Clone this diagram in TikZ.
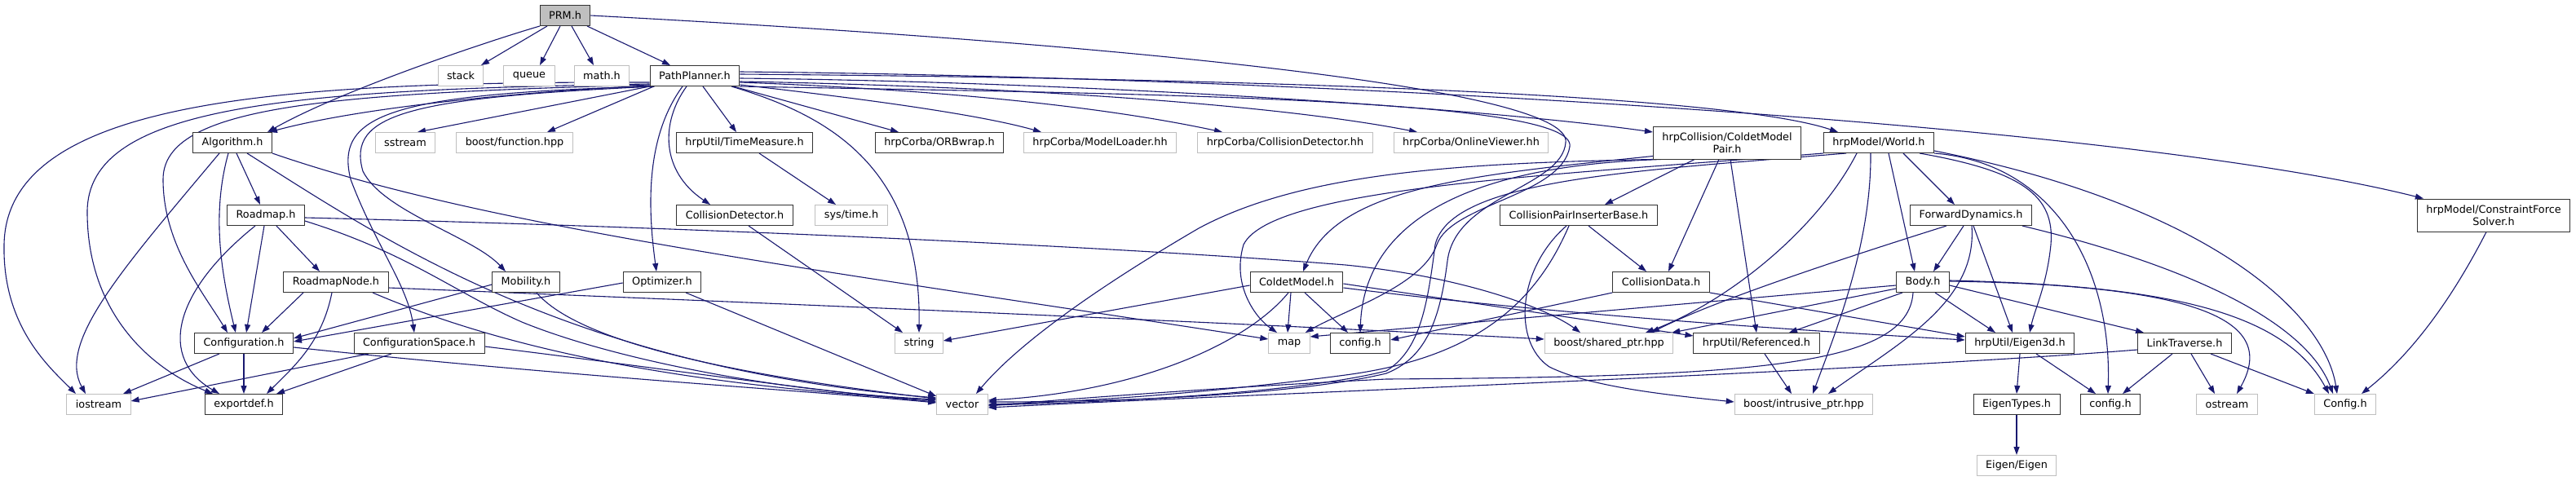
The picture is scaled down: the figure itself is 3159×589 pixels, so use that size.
\documentclass[tikz,border=0pt]{standalone}
\usepackage{fontspec}
\setmainfont{DejaVu Sans}
\usepackage{xcolor}
\usepackage{tikz}
\usetikzlibrary{arrows.meta,backgrounds}
\definecolor{depblue}{HTML}{191970}
\tikzset{
  hdr/.style={rectangle, draw=black!80, fill=white, line width=1pt, minimum height=25pt,
              inner xsep=11pt, inner ysep=0pt, align=center, font=\fontsize{12.8}{15}\selectfont},
  sys/.style={hdr, draw=black!25},
  cur/.style={hdr, fill=black!25},
  dep/.style={draw=depblue, line width=1.1pt, -{Triangle[length=10pt,width=7pt]}}
}
\begin{document}
\begin{tikzpicture}[x=1pt, y=-1pt]
  \useasboundingbox (0,0) rectangle (3159,589);
  \node[cur] (prm) at (693,19) {PRM.h};
  \node[sys] (stack) at (565,93) {stack};
  \node[sys] (queue) at (649,93) {queue};
  \node[sys] (mathh) at (738,93) {math.h};
  \node[hdr] (planner) at (852,93) {PathPlanner.h};
  \node[hdr] (algorithm) at (285,175) {Algorithm.h};
  \node[sys] (sstream) at (497,175) {sstream};
  \node[sys] (function) at (631,175) {boost/function.hpp};
  \node[hdr] (timemeasure) at (913,175) {hrpUtil/TimeMeasure.h};
  \node[hdr] (orbwrap) at (1152,175) {hrpCorba/ORBwrap.h};
  \node[sys] (modelloader) at (1349,175) {hrpCorba/ModelLoader.hh};
  \node[sys] (corbadetector) at (1576,175) {hrpCorba/CollisionDetector.hh};
  \node[sys] (viewer) at (1804,175) {hrpCorba/OnlineViewer.hh};
  \node[hdr, minimum height=40pt] (modelpair) at (2118,175) {hrpCollision/ColdetModel\\Pair.h};
  \node[hdr] (world) at (2304,175) {hrpModel/World.h};
  \node[hdr, minimum height=40pt] (solver) at (3058,264) {hrpModel/ConstraintForce\\Solver.h};
  \node[hdr] (roadmap) at (326,264) {Roadmap.h};
  \node[hdr] (detector) at (901,264) {CollisionDetector.h};
  \node[sys] (systime) at (1044,264) {sys/time.h};
  \node[hdr] (inserter) at (1936,264) {CollisionPairInserterBase.h};
  \node[hdr] (fwddyn) at (2417,264) {ForwardDynamics.h};
  \node[hdr] (roadmapnode) at (412,346) {RoadmapNode.h};
  \node[hdr] (mobility) at (645,346) {Mobility.h};
  \node[hdr] (optimizer) at (812,346) {Optimizer.h};
  \node[hdr] (coldetmodel) at (1590,346) {ColdetModel.h};
  \node[hdr] (colldata) at (2037,346) {CollisionData.h};
  \node[hdr] (body) at (2358,346) {Body.h};
  \node[hdr] (config) at (299,421) {Configuration.h};
  \node[hdr] (cspace) at (514,421) {ConfigurationSpace.h};
  \node[sys] (string) at (1127,421) {string};
  \node[sys] (map) at (1581,421) {map};
  \node[hdr] (colconfig) at (1668,421) {config.h};
  \node[sys] (sharedptr) at (1973,421) {boost/shared\_ptr.hpp};
  \node[hdr] (referenced) at (2154,421) {hrpUtil/Referenced.h};
  \node[hdr] (eigen3d) at (2477,421) {hrpUtil/Eigen3d.h};
  \node[hdr] (linktrav) at (2679,421) {LinkTraverse.h};
  \node[sys] (iostream) at (121,496) {iostream};
  \node[hdr] (exportdef) at (299,496) {exportdef.h};
  \node[sys] (vector) at (1180,496) {vector};
  \node[sys] (intrusiveptr) at (2212,496) {boost/intrusive\_ptr.hpp};
  \node[hdr] (eigentypes) at (2473,496) {EigenTypes.h};
  \node[hdr] (utilconfig) at (2588,496) {config.h};
  \node[sys] (ostream) at (2731,496) {ostream};
  \node[sys] (bigconfig) at (2876,496) {Config.h};
  \node[sys] (eigen) at (2473,571) {Eigen/Eigen};
  \begin{scope}[on background layer]
  \fill[white] (0,0) rectangle (3159,589);
  \draw[dep] ([xshift=-22pt]prm.south) -- ([xshift=25pt]stack.north);
  \draw[dep] ([xshift=-6pt]prm.south) -- ([xshift=13pt]queue.north);
  \draw[dep] ([xshift=8pt]prm.south) -- ([xshift=-10pt]mathh.north);
  \draw[dep] ([xshift=27pt]prm.south) -- ([xshift=-30pt]planner.north);
  \draw[dep] ([xshift=-31pt]prm.south) .. controls (600,50) and (420,110) .. ([xshift=43pt]algorithm.north);
  \draw[dep] (prm.east) .. controls (1400,55) and (1930,110) .. (1920,175) .. controls (1915,230) and (1785,240) .. (1775,320)
    .. controls (1765,400) and (1745,440) .. (1700,458) .. controls (1600,482) and (1400,493) .. ([yshift=3pt]vector.east);
  \draw[dep] ([yshift=-8pt]planner.west) .. controls (350,100) and (8,120) .. (5,300) .. controls (3,400) and (60,450) .. ([xshift=-28pt]iostream.north);
  \draw[dep] ([yshift=-10pt]planner.west) .. controls (350,110) and (107,130) .. (107,260) .. controls (107,380) and (180,450) .. ([xshift=-38pt]exportdef.north);
  \draw[dep] ([yshift=-11pt]planner.west) .. controls (400,115) and (200,130) .. (200,220) .. controls (200,300) and (250,360) .. ([xshift=-20pt]config.north);
  \draw[dep] ([yshift=-12pt]planner.west) .. controls (650,112) and (450,130) .. ([xshift=45pt]algorithm.north);
  \draw[dep] (planner.south west) -- ([xshift=15pt]sstream.north);
  \draw[dep] ([xshift=5pt]planner.south west) -- ([xshift=40pt]function.north);
  \draw[dep] ([xshift=3pt]planner.south west) .. controls (480,115) and (410,140) .. (430,220) .. controls (460,300) and (500,350) .. ([xshift=-6pt]cspace.north);
  \draw[dep] ([xshift=6pt]planner.south west) .. controls (500,120) and (425,140) .. (445,210) .. controls (470,260) and (580,290) .. ([xshift=-25pt]mobility.north);
  \draw[dep] ([xshift=10pt]planner.south) -- ([xshift=-10pt]timemeasure.north);
  \draw[dep] ([xshift=-10pt]planner.south) .. controls (810,150) and (810,210) .. ([xshift=-30pt]detector.north);
  \draw[dep] ([xshift=-15pt]planner.south) .. controls (790,170) and (795,260) .. ([xshift=-7pt]optimizer.north);
  \draw[dep] ([xshift=45pt]planner.south) .. controls (1010,140) and (1130,200) .. (string.north);
  \draw[dep] ([xshift=-8pt]planner.south east) -- ([xshift=-50pt]orbwrap.north);
  \draw[dep] ([yshift=2pt]planner.south east) .. controls (1050,120) and (1200,140) .. ([xshift=-72pt]modelloader.north);
  \draw[dep] ([yshift=5pt]planner.south east) .. controls (1150,110) and (1350,130) .. ([xshift=-77pt]corbadetector.north);
  \draw[dep] ([yshift=-7pt]planner.east) .. controls (1200,105) and (1550,125) .. ([xshift=-66pt]viewer.north);
  \draw[dep] ([yshift=-3pt]planner.east) .. controls (1300,100) and (1800,130) .. ([yshift=13pt]modelpair.west);
  \draw[dep] ([yshift=2pt]planner.east) .. controls (1400,95) and (2100,110) .. ([xshift=-50pt]world.north);
  \draw[dep] ([yshift=5pt]planner.east) .. controls (1600,95) and (2600,150) .. ([xshift=8pt]solver.north west);
  \draw[dep] (planner.south east) .. controls (1400,115) and (1935,120) .. (1925,180) .. controls (1915,240) and (1780,250) .. (1762,300)
    .. controls (1745,350) and (1650,380) .. ([xshift=-6pt]map.north east);
  \draw[dep] ([xshift=-16pt]algorithm.south) .. controls (150,330) and (70,420) .. ([xshift=-16pt]iostream.north);
  \draw[dep] ([xshift=-5pt]algorithm.south) .. controls (260,260) and (270,330) .. ([xshift=-10pt]config.north);
  \draw[dep] ([xshift=5pt]algorithm.south) -- ([xshift=-7pt]roadmap.north);
  \draw[dep] ([xshift=18pt]algorithm.south) .. controls (480,300) and (700,450) .. ([yshift=8pt]vector.west);
  \draw[dep] (algorithm.south east) .. controls (600,280) and (1000,330) .. ([yshift=5pt]map.west);
  \draw[dep] ([xshift=-13pt]roadmap.south) .. controls (210,360) and (195,440) .. ([xshift=-30pt]exportdef.north);
  \draw[dep] ([xshift=-2pt]roadmap.south) -- ([xshift=3pt]config.north);
  \draw[dep] ([xshift=13pt]roadmap.south) -- ([xshift=-20pt]roadmapnode.north);
  \draw[dep] ([yshift=-7pt]roadmap.east) .. controls (500,310) and (560,360) .. (640,395) .. controls (750,440) and (950,480) .. ([yshift=6pt]vector.west);
  \draw[dep] ([yshift=-3pt]roadmap.east) .. controls (900,280) and (1400,305) .. (1650,325) .. controls (1800,340) and (1900,380) .. ([xshift=-35pt]sharedptr.north);
  \draw[dep] ([xshift=-40pt]roadmapnode.south) -- ([xshift=22pt]config.north);
  \draw[dep] ([xshift=-5pt]roadmapnode.south) .. controls (395,420) and (360,450) .. ([xshift=28pt]exportdef.north);
  \draw[dep] ([xshift=45pt]roadmapnode.south) .. controls (600,420) and (800,470) .. ([yshift=5pt]vector.west);
  \draw[dep] ([yshift=-7pt]roadmapnode.east) .. controls (900,370) and (1500,395) .. ([yshift=5pt]sharedptr.west);
  \draw[dep] ([xshift=-30pt]config.south) -- ([xshift=30pt]iostream.north);
  \draw[dep] (config.south) -- (exportdef.north);
  \draw[dep] ([yshift=-5pt]config.east) .. controls (700,462) and (1000,480) .. ([yshift=2pt]vector.west);
  \draw[dep] ([xshift=-62pt]cspace.south) -- ([yshift=4pt]iostream.east);
  \draw[dep] ([xshift=-34pt]cspace.south) -- ([xshift=40pt]exportdef.north);
  \draw[dep] ([yshift=-4pt]cspace.east) .. controls (800,450) and (1000,480) .. ([yshift=3pt]vector.west);
  \draw[dep] ([yshift=-3pt]mobility.west) -- ([yshift=6pt]config.east);
  \draw[dep] ([xshift=13pt]mobility.south) .. controls (710,420) and (900,460) .. ([yshift=7pt]vector.west);
  \draw[dep] ([yshift=-1pt]optimizer.west) -- ([yshift=2pt]config.east);
  \draw[dep] ([xshift=29pt]optimizer.south) -- ([yshift=10pt]vector.west);
  \draw[dep] ([xshift=17pt]detector.south) -- ([xshift=-20pt]string.north);
  \draw[dep] ([xshift=18pt]timemeasure.south) -- ([xshift=-19pt]systime.north);
  \draw[dep] ([xshift=-40pt]modelpair.south) -- ([xshift=32pt]inserter.north);
  \draw[dep] ([xshift=-10pt]modelpair.south) -- ([xshift=9pt]colldata.north);
  \draw[dep] ([xshift=4pt]modelpair.south) -- (referenced.north);
  \draw[dep] ([yshift=4pt]modelpair.south west) .. controls (1800,215) and (1640,230) .. ([xshift=8pt]coldetmodel.north);
  \draw[dep] (modelpair.south west) .. controls (1800,200) and (1600,210) .. (1470,280) .. controls (1350,350) and (1250,420) .. ([xshift=17pt]vector.north);
  \draw[dep] ([xshift=10pt]modelpair.south west) .. controls (1750,205) and (1672,300) .. (colconfig.north);
  \draw[dep] ([xshift=12pt]inserter.south) -- ([xshift=-18pt]colldata.north);
  \draw[dep] ([xshift=-12pt]inserter.south) .. controls (1880,380) and (1800,440) .. (1650,460) .. controls (1500,480) and (1350,492) .. (vector.east);
  \draw[dep] ([xshift=-15pt]inserter.south) .. controls (1860,330) and (1855,420) .. (1900,450) .. controls (1950,475) and (2050,485) .. ([yshift=3pt]intrusiveptr.west);
  \draw[dep] ([yshift=-4pt]coldetmodel.west) -- ([yshift=3pt]string.east);
  \draw[dep] ([xshift=-10pt]coldetmodel.south) .. controls (1530,420) and (1400,480) .. ([yshift=5pt]vector.east);
  \draw[dep] ([xshift=-7pt]coldetmodel.south) -- ([xshift=-2pt]map.north);
  \draw[dep] ([xshift=10pt]coldetmodel.south) -- ([xshift=-15pt]colconfig.north);
  \draw[dep] ([yshift=-2pt]coldetmodel.east) -- ([yshift=9pt]referenced.west);
  \draw[dep] ([yshift=-7pt]coldetmodel.east) .. controls (1900,385) and (2200,405) .. ([yshift=4pt]eigen3d.west);
  \draw[dep] (colldata.south west) -- ([yshift=4pt]colconfig.east);
  \draw[dep] (colldata.south east) -- ([yshift=8pt]eigen3d.west);
  \draw[dep] ([xshift=10pt]referenced.south) -- ([xshift=-15pt]intrusiveptr.north);
  \draw[dep] ([xshift=30pt]world.south) -- ([xshift=-20pt]fwddyn.north);
  \draw[dep] ([xshift=12pt]world.south) -- ([xshift=-10pt]body.north);
  \draw[dep] ([xshift=50pt]world.south) .. controls (2480,210) and (2520,240) .. (2515,300) .. controls (2510,350) and (2495,380) .. ([xshift=12pt]eigen3d.north);
  \draw[dep] (world.south east) .. controls (2520,200) and (2590,330) .. ([xshift=-3pt]utilconfig.north);
  \draw[dep] ([yshift=3pt]world.south east) .. controls (2700,250) and (2850,380) .. ([xshift=-10pt]bigconfig.north);
  \draw[dep] ([xshift=-10pt]world.south) .. controls (2295,300) and (2250,410) .. ([xshift=11pt]intrusiveptr.north);
  \draw[dep] ([xshift=-27pt]world.south) .. controls (2230,280) and (2120,370) .. ([xshift=45pt]sharedptr.north);
  \draw[dep] (world.south west) .. controls (1900,215) and (1560,230) .. (1525,300) .. controls (1510,350) and (1540,390) .. ([xshift=-15pt]map.north);
  \draw[dep] ([xshift=-40pt]world.south) .. controls (2000,210) and (1780,220) .. (1760,300) .. controls (1750,380) and (1740,430) .. (1700,455)
    .. controls (1600,480) and (1400,492) .. ([yshift=-1pt]vector.east);
  \draw[dep] ([xshift=-9pt]fwddyn.south) -- ([xshift=13pt]body.north);
  \draw[dep] ([xshift=3pt]fwddyn.south) -- ([xshift=-9pt]eigen3d.north);
  \draw[dep] ([xshift=-30pt]fwddyn.south) .. controls (2250,320) and (2100,370) .. ([xshift=52pt]sharedptr.north);
  \draw[dep] ([xshift=-12pt]fwddyn.south east) .. controls (2700,330) and (2830,400) .. ([xshift=-15pt]bigconfig.north);
  \draw[dep] ([xshift=1pt]fwddyn.south) .. controls (2425,370) and (2330,420) .. ([xshift=30pt]intrusiveptr.north);
  \draw[dep] ([yshift=-4pt]body.west) -- ([yshift=8pt]map.east);
  \draw[dep] ([yshift=-8pt]body.west) -- ([xshift=-2pt]sharedptr.north east);
  \draw[dep] ([xshift=-25pt]body.south) -- ([xshift=40pt]referenced.north);
  \draw[dep] ([xshift=15pt]body.south) -- ([xshift=-30pt]eigen3d.north);
  \draw[dep] ([yshift=-4pt]body.east) -- ([xshift=-50pt]linktrav.north);
  \draw[dep] ([yshift=2pt]body.east) .. controls (2650,350) and (2800,380) .. ([xshift=-20pt]bigconfig.north);
  \draw[dep] ([yshift=1pt]body.east) .. controls (2720,350) and (2790,400) .. ([xshift=12pt]ostream.north);
  \draw[dep] ([xshift=-12pt]body.south) .. controls (2340,450) and (2150,462) .. (1700,465) .. controls (1500,475) and (1300,490) .. ([yshift=-2pt]vector.east);
  \draw[dep] ([xshift=-15pt]linktrav.south) -- ([xshift=15pt]utilconfig.north);
  \draw[dep] ([xshift=8pt]linktrav.south) -- ([xshift=-15pt]ostream.north);
  \draw[dep] ([xshift=32pt]linktrav.south) -- (bigconfig.north west);
  \draw[dep] ([yshift=-8pt]linktrav.west) .. controls (2300,455) and (1500,485) .. ([yshift=-4pt]vector.east);
  \draw[dep] (eigen3d.south) -- (eigentypes.north);
  \draw[dep] ([xshift=20pt]eigen3d.south) -- ([xshift=-18pt]utilconfig.north);
  \draw[dep] (eigentypes.south) -- (eigen.north);
  \draw[dep] ([xshift=-9pt]solver.south) .. controls (3000,380) and (2950,440) .. ([xshift=20pt]bigconfig.north);
  \end{scope}
\end{tikzpicture}
\end{document}
